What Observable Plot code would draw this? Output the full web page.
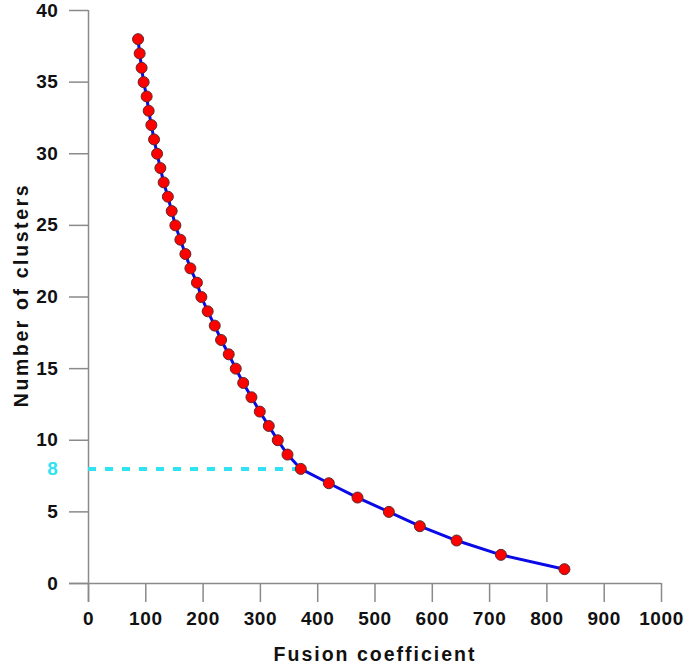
<!DOCTYPE html>
<html>
<head>
<meta charset="utf-8">
<script src="https://cdn.jsdelivr.net/npm/d3@7"></script>
<script src="https://cdn.jsdelivr.net/npm/@observablehq/plot@0.6"></script>
<style>
  html, body { margin: 0; padding: 0; background: #fff; }
  .xttl { letter-spacing: 2px; }
  .yttl { letter-spacing: 2.6px; }
</style>
</head>
<body>
<div id="chart"></div>
<script>
const clusters = [38, 37, 36, 35, 34, 33, 32, 31, 30, 29, 28, 27, 26, 25, 24, 23, 22, 21, 20, 19,
                  18, 17, 16, 15, 14, 13, 12, 11, 10, 9, 8, 7, 6, 5, 4, 3, 2, 1];
const fusion = [86.5, 89.3, 92.7, 96.2, 101.5, 105, 109.7, 114.4, 119.7, 125.4, 131.2, 138.5, 145.2,
                151.6, 160.3, 169.1, 177.8, 189.2, 197, 208, 220.3, 231.4, 244.7, 257, 270, 284.4,
                298.9, 314.6, 330.3, 347.3, 370.5, 419.4, 469.5, 524.2, 578.3, 642.4, 719.8, 830.6];
const xTicks = [0, 100, 200, 300, 400, 500, 600, 700, 800, 900, 1000];
const yTicks = [0, 5, 10, 15, 20, 25, 30, 35, 40];
const cutoffClusters = 8;
const xTitle = "Fusion coefficient";
const yTitle = "Number of clusters";

const data = clusters.map((c, i) => ({x: fusion[i], y: c}));
const cutoffFusion = fusion[clusters.indexOf(cutoffClusters)];

const axisGray = "#8a8a8a";
const textColor = "#111";
const cyan = "#2fe3f2";

const chart = Plot.plot({
  width: 685,
  height: 665,
  marginLeft: 88,
  marginRight: 24,
  marginTop: 10,
  marginBottom: 82,
  style: {fontFamily: "'Liberation Sans', Arial, sans-serif", fontSize: "19px", fontWeight: "bold", letterSpacing: "0.6px", background: "#fff"},
  x: {domain: [0, 1000]},
  y: {domain: [0, 40]},
  marks: [
    Plot.axisX({ticks: xTicks, tickSize: 19, tickPadding: 9, stroke: axisGray, fill: textColor, strokeWidth: 1.5, label: null, fontSize: 19, tickFormat: d => String(d)}),
    Plot.axisY({ticks: yTicks, tickSize: 19, tickPadding: 11, stroke: axisGray, fill: textColor, strokeWidth: 1.5, label: null, fontSize: 19, tickFormat: d => String(d)}),
    Plot.ruleX([0], {stroke: axisGray, strokeWidth: 1.5, insetBottom: -19}),
    Plot.ruleY([0], {stroke: axisGray, strokeWidth: 1.5, insetLeft: -19}),
    Plot.ruleY([cutoffClusters], {x1: 0, x2: cutoffFusion, stroke: cyan, strokeWidth: 4, strokeDasharray: "8,9"}),
    Plot.text([cutoffClusters], {x: 0, y: d => d, text: d => String(d), dx: -30, textAnchor: "end", fill: cyan, fontSize: 19, fontWeight: "bold"}),
    Plot.line(data, {x: "x", y: "y", stroke: "#0a0ae6", strokeWidth: 3}),
    Plot.dot(data, {x: "x", y: "y", r: 5.5, fill: "#ff0000", stroke: "#5a2a2a", strokeWidth: 1}),
    Plot.text([xTitle], {frameAnchor: "bottom", textAnchor: "middle", lineAnchor: "middle", dy: 71, text: d => d, fill: textColor, fontSize: 19.5, fontWeight: "bold", className: "xttl"}),
    Plot.text([yTitle], {frameAnchor: "left", textAnchor: "middle", lineAnchor: "middle", dx: -67, dy: -2, rotate: -90, text: d => d, fill: textColor, fontSize: 19.5, fontWeight: "bold", className: "yttl"})
  ]
});
document.getElementById("chart").appendChild(chart);
</script>
</body>
</html>
